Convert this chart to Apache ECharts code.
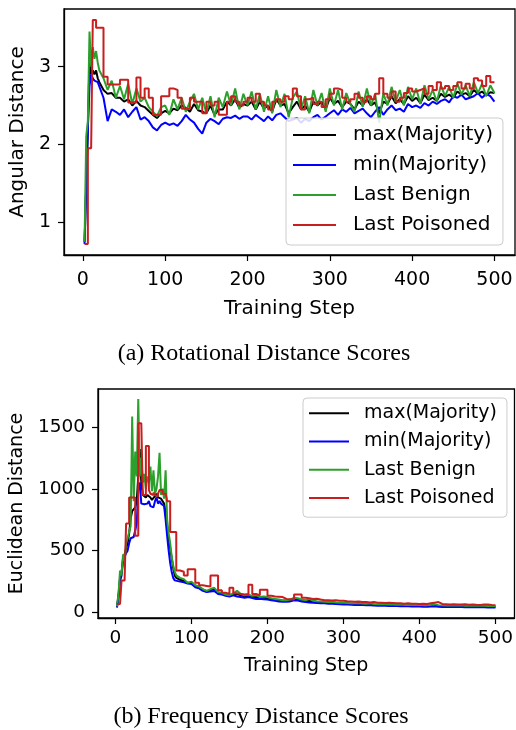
<!DOCTYPE html>
<html><head><meta charset="utf-8">
<script src="https://cdn.jsdelivr.net/npm/echarts@6/dist/echarts.min.js"></script>
<style>html,body{margin:0;padding:0;background:#fff}#c{width:516px;height:730px}</style>
</head><body><div id="c"></div>
<script>
// ---------- Chart (a): Rotational Distance Scores ----------
const stepsA = [2,4,6,8,10,12,14,16,18,20,
  25,30,35,40,45,50,55,60,65,70,75,80,85,90,95,100,
  105,110,115,120,125,130,135,140,145,150,155,160,165,170,175,180,185,190,195,200,
  205,210,215,220,225,230,235,240,245,250,255,260,265,270,275,280,285,290,295,300,
  305,310,315,320,325,330,335,340,345,350,355,360,365,370,375,380,385,390,395,400,
  405,410,415,420,425,430,435,440,445,450,455,460,465,470,475,480,485,490,495,500];
const maxMajA = [0.75,1.45,2.2,3.1,2.9,2.95,2.9,2.95,2.85,2.8,
  2.7,2.65,2.66,2.6,2.6,2.55,2.58,2.5,2.56,2.5,2.48,2.43,2.38,2.34,2.4,2.43,
  2.4,2.46,2.44,2.5,2.47,2.42,2.52,2.44,2.42,2.4,2.5,2.38,2.45,2.45,2.55,2.5,2.58,2.47,2.52,2.5,
  2.55,2.45,2.55,2.46,2.5,2.42,2.58,2.5,2.52,2.4,2.48,2.55,2.45,2.5,2.42,2.55,2.5,2.55,2.45,2.6,
  2.52,2.56,2.48,2.55,2.52,2.45,2.55,2.5,2.58,2.5,2.54,2.4,2.55,2.52,2.62,2.53,2.58,2.52,2.62,2.56,
  2.6,2.53,2.64,2.57,2.6,2.56,2.65,2.61,2.64,2.6,2.68,2.64,2.66,2.62,2.7,2.65,2.68,2.63,2.67,2.66];
const minMajA = [0.72,1.5,2.2,2.75,2.9,2.85,2.82,2.83,2.8,2.78,
  2.6,2.3,2.45,2.42,2.38,2.45,2.35,2.42,2.48,2.32,2.35,2.3,2.22,2.18,2.25,2.28,
  2.25,2.27,2.24,2.3,2.38,2.32,2.28,2.2,2.14,2.28,2.33,2.3,2.26,2.33,2.35,2.34,2.37,2.33,2.36,2.36,
  2.32,2.38,2.34,2.3,2.36,2.31,2.38,2.4,2.35,2.3,2.32,2.34,2.28,2.33,2.3,2.35,2.38,2.32,2.36,2.4,
  2.44,2.38,2.45,2.42,2.47,2.4,2.43,2.46,2.4,2.35,2.42,2.48,2.38,2.45,2.5,2.44,2.46,2.42,2.52,2.48,
  2.5,2.47,2.53,2.5,2.55,2.52,2.56,2.58,2.54,2.62,2.6,2.64,2.58,2.6,2.62,2.66,2.6,2.65,2.62,2.55];
const benignA = [0.75,2.1,2.3,3.45,3.0,3.25,3.1,3.2,3.05,2.95,
  2.85,2.7,2.82,2.6,2.75,2.58,2.78,2.52,2.72,2.55,2.6,2.48,2.42,2.36,2.48,2.5,
  2.38,2.58,2.45,2.6,2.42,2.55,2.65,2.45,2.6,2.4,2.62,2.35,2.6,2.48,2.68,2.5,2.72,2.45,2.65,2.5,
  2.68,2.45,2.65,2.42,2.62,2.4,2.7,2.48,2.65,2.35,2.6,2.68,2.45,2.62,2.4,2.7,2.5,2.66,2.42,2.72,
  2.5,2.7,2.45,2.66,2.52,2.42,2.68,2.48,2.72,2.5,2.65,2.28,2.66,2.5,2.74,2.55,2.7,2.5,2.74,2.58,
  2.72,2.52,2.76,2.58,2.7,2.55,2.76,2.62,2.74,2.6,2.78,2.64,2.76,2.62,2.8,2.66,2.78,2.62,2.76,2.66];
const poisonedA = [0.72,0.72,1.95,1.95,1.95,3.6,3.6,3.5,3.5,3.5,
  2.87,2.77,2.77,2.77,2.83,2.83,2.54,2.54,2.86,2.6,2.72,2.6,2.38,2.38,2.62,2.62,
  2.72,2.7,2.6,2.46,2.46,2.6,2.55,2.55,2.4,2.55,2.5,2.55,2.38,2.38,2.55,2.62,2.55,2.5,2.55,2.6,
  2.55,2.65,2.55,2.5,2.45,2.55,2.58,2.55,2.62,2.58,2.72,2.62,2.45,2.58,2.6,2.52,2.55,2.48,2.58,2.65,
  2.72,2.7,2.6,2.55,2.58,2.65,2.6,2.55,2.62,2.58,2.65,2.85,2.65,2.6,2.68,2.55,2.6,2.66,2.72,2.68,
  2.7,2.72,2.65,2.75,2.7,2.8,2.72,2.75,2.7,2.75,2.8,2.72,2.78,2.72,2.85,2.82,2.75,2.88,2.8,2.8];

// ---------- Chart (b): Frequency Distance Scores ----------
const stepsB = [2,4,6,8,10,12,14,16,18,20,
  22,24,26,28,30,32,34,36,38,40,
  42,44,46,48,50,52,54,56,58,60,
  62,64,66,68,70,72,74,76,78,80,
  85,90,95,100,105,110,115,120,125,130,135,140,145,150,155,160,165,170,175,180,
  185,190,195,200,205,210,215,220,225,230,235,240,245,250,255,260,265,270,275,280,
  285,290,295,300,305,310,315,320,325,330,335,340,345,350,355,360,365,370,375,380,
  385,390,395,400,405,410,415,420,425,430,435,440,445,450,455,460,465,470,475,480,485,490,495,500];
const maxMajB = [45,140,280,320,440,470,520,560,640,760,
  820,830,850,900,1100,1320,1050,950,940,930,
  950,960,930,910,920,940,960,930,940,920,
  910,880,800,680,600,520,440,360,300,280,
  265,255,240,240,215,205,185,172,180,188,160,155,142,138,148,150,140,132,136,128,
  125,120,120,116,110,104,98,95,95,98,110,108,98,94,95,88,86,84,82,80,
  80,76,74,73,72,70,69,70,67,65,66,63,62,62,61,60,59,58,58,56,
  57,55,54,55,54,54,55,58,53,52,51,52,50,50,51,49,49,48,48,50,49,47,46,46];
const minMajB = [40,120,250,300,420,450,480,500,560,600,
  600,610,620,720,1000,1050,880,870,875,870,
  880,900,860,850,850,900,930,880,900,880,
  870,860,750,620,500,400,330,280,260,255,
  250,245,235,230,205,195,175,165,170,175,150,145,135,130,140,130,125,120,125,118,
  110,112,108,105,100,95,90,88,88,90,100,98,90,85,82,80,78,76,75,72,
  72,70,68,66,65,64,62,62,60,58,58,56,55,55,54,53,52,52,50,50,
  50,48,48,48,47,47,48,50,46,45,45,45,44,44,44,43,43,42,42,43,42,41,40,40];
const benignB = [50,150,340,300,470,420,560,600,650,700,
  1583,900,1300,1100,1726,1100,1250,1050,1120,1000,
  1100,1050,1180,980,1150,960,1000,1100,1290,950,
  1000,920,1150,750,640,560,450,380,330,300,
  280,270,240,250,220,210,190,175,190,200,165,160,145,140,155,175,150,140,145,135,
  140,125,130,125,115,110,105,100,100,105,120,115,105,100,110,95,92,90,88,85,
  88,82,80,80,78,76,75,78,74,72,75,70,68,70,68,66,65,64,66,62,
  64,62,60,62,60,60,62,66,60,58,57,58,56,56,58,55,55,54,54,56,55,53,52,52];
const poisonedB = [70,70,80,258,258,258,720,720,930,930,
  930,930,620,620,1530,1530,1530,950,950,1345,
  1345,990,960,950,970,950,940,960,990,990,
  960,960,960,900,900,650,650,650,650,340,
  330,300,350,350,240,220,215,210,300,300,180,160,150,200,155,150,145,150,225,150,
  140,185,185,135,130,128,125,110,108,105,145,145,120,115,110,112,105,100,100,98,
  100,95,95,92,90,88,90,85,85,82,85,80,80,78,80,78,75,75,72,75,
  72,72,70,72,70,75,80,85,70,68,66,68,66,65,68,64,65,63,62,65,66,62,60,60];

const xTickLabels = [0,100,200,300,400,500];
const yTicksA = [1,2,3];
const yTicksB = [0,500,1000,1500];
const seriesNames = ['max(Majority)','min(Majority)','Last Benign','Last Poisoned'];
const seriesColors = ['#000000','#0000ff','#2ca02c','#c81e1e'];

const FONT = 'DejaVu Sans';
const zip = (xs, ys) => xs.map((x, i) => [x, ys[i]]);
const plain = v => String(v);

function xAxis(gi, fs, lfs, gap, margin) {
  return {
    type:'value', gridIndex:gi, min:-23, max:525,
    axisLine:{show:true, onZero:false, lineStyle:{color:'#000', width:1.3}},
    axisTick:{show:true, length:6, customValues:xTickLabels, lineStyle:{color:'#000', width:1.2}},
    axisLabel:{customValues:xTickLabels, formatter:plain, color:'#000', fontFamily:FONT, fontSize:fs, margin:margin},
    splitLine:{show:false},
    name:'Training Step', nameLocation:'middle', nameGap:gap,
    nameTextStyle:{fontFamily:FONT, fontSize:lfs, color:'#000'}
  };
}
function yAxis(gi, min, max, ticks, name, fs, lfs, gap) {
  return {
    type:'value', gridIndex:gi, min:min, max:max,
    axisLine:{show:true, onZero:false, lineStyle:{color:'#000', width:1.3}},
    axisTick:{show:true, length:6, customValues:ticks, lineStyle:{color:'#000', width:1.2}},
    axisLabel:{customValues:ticks, formatter:plain, color:'#000', fontFamily:FONT, fontSize:fs, margin:13},
    splitLine:{show:false},
    name:name, nameLocation:'middle', nameGap:gap,
    nameTextStyle:{fontFamily:FONT, fontSize:lfs, color:'#000'}
  };
}
const dataA = [maxMajA, minMajA, benignA, poisonedA];
const dataB = [maxMajB, minMajB, benignB, poisonedB];
const series = [];
[dataA, dataB].forEach((set, gi) => {
  const steps = gi === 0 ? stepsA : stepsB;
  set.forEach((vals, k) => {
    series.push({
      type:'line', name:seriesNames[k], xAxisIndex:gi, yAxisIndex:gi,
      data:zip(steps, vals), symbol:'none', showSymbol:false,
      step: k === 3 ? 'end' : false,
      lineStyle:{color:seriesColors[k], width:2},
      itemStyle:{color:seriesColors[k]},
      animation:false
    });
  });
});
function legend(left, top, fs, lh, iw, pad, gapTxt) {
  return {
    data:seriesNames.map(n => ({name:n, icon:'rect'})), orient:'vertical', left:left, top:top,
    itemWidth:iw, itemHeight:2, itemGap:0, padding:pad,
    backgroundColor:'rgba(255,255,255,0.85)', borderColor:'#cccccc', borderWidth:1, borderRadius:4,
    textStyle:{fontFamily:FONT, fontSize:fs, color:'#000', lineHeight:lh, padding:[0,0,0,gapTxt]},
    selectedMode:false
  };
}
const chart = echarts.init(document.getElementById('c'), null, {renderer:'canvas'});
chart.setOption({
  animation:false,
  backgroundColor:'#fff',
  grid:[
    {left:63, top:9, width:452, height:246, show:true, borderColor:'#000', borderWidth:1.3, backgroundColor:'transparent'},
    {left:95, top:389, width:420, height:229, show:true, borderColor:'#000', borderWidth:1.3, backgroundColor:'transparent'}
  ],
  xAxis:[xAxis(0, 19, 20, 44, 16), xAxis(1, 18.5, 19, 39, 11)],
  yAxis:[yAxis(0, 0.58, 3.74, yTicksA, 'Angular Distance', 19, 20, 34), yAxis(1, -44, 1806, yTicksB, 'Euclidean Distance', 18.5, 19, 62)],
  legend:[legend(286, 118, 20, 30, 43, [2,10,5,7], 12), legend(303, 398, 19, 28.3, 40, [1,10,5,6], 10)],
  series:series,
  graphic:[
    {type:'text', x:264, y:354, style:{text:'(a) Rotational Distance Scores', font:'24px "Liberation Serif"', fill:'#000', textAlign:'center', textVerticalAlign:'middle'}},
    {type:'text', x:261, y:717, style:{text:'(b) Frequency Distance Scores', font:'24px "Liberation Serif"', fill:'#000', textAlign:'center', textVerticalAlign:'middle'}}
  ]
});
</script></body></html>
